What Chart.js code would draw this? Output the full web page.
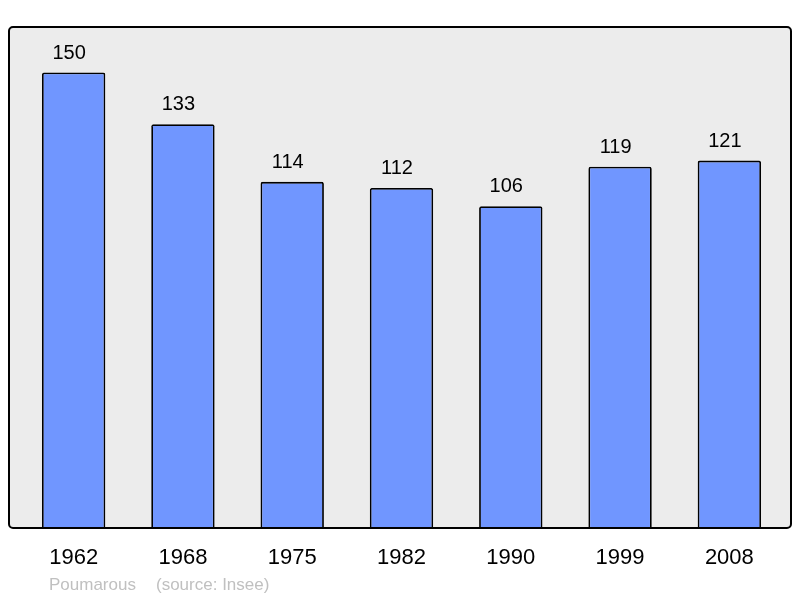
<!DOCTYPE html>
<html>
<head>
<meta charset="utf-8">
<script src="https://cdn.jsdelivr.net/npm/chart.js@4"></script>
<style>
html,body{margin:0;padding:0;background:#fff;}
#wrap{width:800px;height:598px;position:relative;}
</style>
</head>
<body>
<div id="wrap"><canvas id="c" width="800" height="598"></canvas></div>
<script>
const categories = ["1962","1968","1975","1982","1990","1999","2008"];
const population = [150,133,114,112,106,119,121];
const footerName = "Poumarous";
const footerSource = "(source: Insee)";

const frame = {
  id: 'frame',
  beforeDatasetsDraw(chart) {
    const ctx = chart.ctx, a = chart.chartArea;
    const x0 = a.left - 10, x1 = a.right + 7, y0 = a.top, y1 = a.bottom;
    ctx.save();
    ctx.beginPath();
    ctx.roundRect(x0, y0, x1 - x0, y1 - y0, 4);
    ctx.fillStyle = '#ececec';
    ctx.fill();
    ctx.restore();
  },
  afterDatasetsDraw(chart) {
    const ctx = chart.ctx, a = chart.chartArea;
    const x0 = a.left - 10, x1 = a.right + 7, y0 = a.top, y1 = a.bottom;
    ctx.save();
    ctx.beginPath();
    ctx.roundRect(x0, y0, x1 - x0, y1 - y0, 4);
    ctx.lineWidth = 2;
    ctx.strokeStyle = '#000';
    ctx.stroke();
    // value labels
    const meta = chart.getDatasetMeta(0);
    ctx.fillStyle = '#000';
    ctx.font = '20px "Liberation Sans", Arial, sans-serif';
    ctx.textAlign = 'center';
    ctx.textBaseline = 'alphabetic';
    meta.data.forEach((el, i) => {
      ctx.fillText(String(chart.data.datasets[0].data[i]), el.x - 4.5, el.y - 14);
    });
    // footer
    ctx.fillStyle = '#c0c0c0';
    ctx.font = '17px "Liberation Sans", Arial, sans-serif';
    ctx.textAlign = 'left';
    ctx.fillText(footerName, 49, 590);
    ctx.fillText(footerSource, 156, 590);
    ctx.restore();
  }
};

new Chart(document.getElementById('c'), {
  type: 'bar',
  data: {
    labels: categories,
    datasets: [{
      data: population,
      backgroundColor: '#7096ff',
      borderColor: '#000',
      borderWidth: 1.8,
      borderRadius: 2,
      borderSkipped: 'bottom',
      barPercentage: 0.58,
      categoryPercentage: 1.0
    }]
  },
  options: {
    responsive: false,
    animation: false,
    layout: { padding: { left: 19, right: 16, top: 27, bottom: 0 } },
    plugins: { legend: { display: false }, tooltip: { enabled: false } },
    scales: {
      x: {
        grid: { display: false, drawTicks: false },
        border: { display: false },
        ticks: {
          color: '#000',
          font: { size: 22, family: '"Liberation Sans", Arial, sans-serif' },
          padding: 17,
          maxRotation: 0
        },
        afterFit(scale) { scale.height = 70; }
      },
      y: {
        display: false,
        min: 0,
        max: 165
      }
    }
  },
  plugins: [frame]
});
</script>
</body>
</html>
